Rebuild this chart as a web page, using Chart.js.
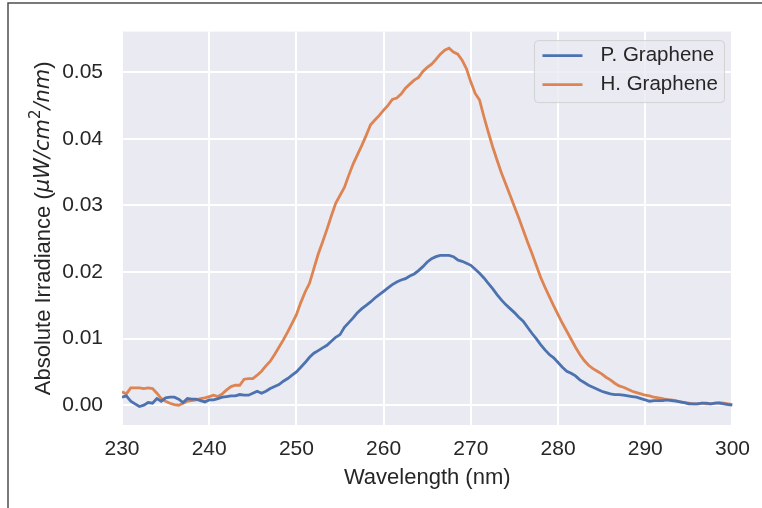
<!DOCTYPE html>
<html>
<head>
<meta charset="utf-8">
<script src="https://cdn.jsdelivr.net/npm/chart.js@4"></script>
<style>
  body { margin: 0; background: #fff; }
  canvas { display: block; }
</style>
</head>
<body>
<canvas id="spectrumChart" width="762" height="508"></canvas>
<script>
// Wavelength grid (nm), sampled every 0.5 nm from 230 to 300
const wlStart = 230;
const wlStep = 0.5;

// P. Graphene
const pGraphene = [
  0.0012, 0.0014, 0.0006, 0.0002, -0.0002, 0.0000, 0.0004, 0.0003, 0.0010, 0.0006,
  0.0011, 0.0012, 0.0012, 0.0009, 0.0004, 0.0010, 0.0009, 0.0009, 0.0007, 0.0005,
  0.0008, 0.0008, 0.0010, 0.0012, 0.0013, 0.0014, 0.0014, 0.0016, 0.0015, 0.0015,
  0.0018, 0.0021, 0.0018, 0.0021, 0.0025, 0.0028, 0.0031, 0.0036, 0.0040, 0.0045,
  0.0050, 0.0057, 0.0064, 0.0072, 0.0078, 0.0082, 0.0086, 0.0090, 0.0096, 0.0102,
  0.0106, 0.0117, 0.0124, 0.0131, 0.0139, 0.0145, 0.0150, 0.0155, 0.0161, 0.0166,
  0.0171, 0.0176, 0.0181, 0.0185, 0.0188, 0.0190, 0.0194, 0.0197, 0.0202, 0.0208,
  0.0215, 0.0220, 0.0223, 0.0225, 0.0225, 0.0225, 0.0223, 0.0218, 0.0216, 0.0213,
  0.0210, 0.0204, 0.0198, 0.0191, 0.0183, 0.0175, 0.0166, 0.0158, 0.0151, 0.0145,
  0.0139, 0.0132, 0.0126, 0.0117, 0.0108, 0.0100, 0.0091, 0.0083, 0.0076, 0.0071,
  0.0064, 0.0057, 0.0051, 0.0048, 0.0044, 0.0038, 0.0034, 0.0030, 0.0027, 0.0024,
  0.0021, 0.0019, 0.0017, 0.0016, 0.0016, 0.0015, 0.0014, 0.0013, 0.0012, 0.0010,
  0.0008, 0.0006, 0.0007, 0.0007, 0.0007, 0.0008, 0.0007, 0.0006, 0.0005, 0.0004,
  0.0002, 0.0002, 0.0002, 0.0003, 0.0003, 0.0002, 0.0003, 0.0003, 0.0002, 0.0001,
  0.0000
];

// H. Graphene
const hGraphene = [
  0.0020, 0.0017, 0.0026, 0.0026, 0.0026, 0.0025, 0.0026, 0.0025, 0.0018, 0.0010,
  0.0006, 0.0003, 0.0001, 0.0000, 0.0003, 0.0006, 0.0007, 0.0008, 0.0010, 0.0011,
  0.0013, 0.0015, 0.0013, 0.0017, 0.0023, 0.0028, 0.0030, 0.0030, 0.0039, 0.0040,
  0.0040, 0.0045, 0.0051, 0.0059, 0.0066, 0.0076, 0.0087, 0.0098, 0.0110, 0.0123,
  0.0136, 0.0154, 0.0170, 0.0183, 0.0205, 0.0227, 0.0245, 0.0264, 0.0284, 0.0303,
  0.0315, 0.0327, 0.0345, 0.0362, 0.0376, 0.0390, 0.0405, 0.0421, 0.0428, 0.0435,
  0.0443, 0.0450, 0.0459, 0.0461, 0.0467, 0.0476, 0.0482, 0.0488, 0.0492, 0.0501,
  0.0507, 0.0512, 0.0519, 0.0527, 0.0533, 0.0536, 0.0530, 0.0527, 0.0518, 0.0505,
  0.0485, 0.0468, 0.0458, 0.0433, 0.0410, 0.0388, 0.0368, 0.0349, 0.0332, 0.0315,
  0.0298, 0.0281, 0.0263, 0.0245, 0.0228, 0.0210, 0.0192, 0.0177, 0.0163, 0.0149,
  0.0136, 0.0123, 0.0111, 0.0099, 0.0087, 0.0076, 0.0067, 0.0060, 0.0055, 0.0051,
  0.0047, 0.0042, 0.0038, 0.0033, 0.0029, 0.0027, 0.0024, 0.0021, 0.0019, 0.0017,
  0.0015, 0.0014, 0.0012, 0.0011, 0.0010, 0.0008, 0.0008, 0.0007, 0.0005, 0.0004,
  0.0003, 0.0002, 0.0002, 0.0003, 0.0002, 0.0002, 0.0003, 0.0004, 0.0003, 0.0002,
  0.0001
];

const seriesLabels = ["P. Graphene", "H. Graphene"];
const xTicks = [230, 240, 250, 260, 270, 280, 290, 300];
const yTicks = [0.0, 0.01, 0.02, 0.03, 0.04, 0.05];

const FONT = '"Liberation Sans", Arial, sans-serif';
const TEXT = "#262626";

// build {x, y} points from the grid
function toPoints(values) {
  return values.map((v, i) => ({ x: wlStart + i * wlStep, y: v }));
}

// seaborn-style grey plot background
const plotBackground = {
  id: "plotBackground",
  beforeDraw(chart) {
    const { ctx, chartArea: a } = chart;
    ctx.save();
    ctx.fillStyle = "#eaeaf2";
    ctx.fillRect(a.left, a.top, a.right - a.left, a.bottom - a.top);
    ctx.restore();
  },
};

// y axis title with italic math part and superscript, centred on the plot
const yAxisTitle = {
  id: "yAxisTitle",
  afterDraw(chart) {
    const { ctx, chartArea: a } = chart;
    const parts = [
      { t: "Absolute Irradiance (", f: "22px " + FONT, dy: 0 },
      { t: "\u03bcW/cm", f: 'italic 21px "DejaVu Sans", sans-serif', dy: 0 },
      { t: "2", f: '15px "DejaVu Sans", sans-serif', dy: -8 },
      { t: "/nm", f: 'italic 21px "DejaVu Sans", sans-serif', dy: 0 },
      { t: ")", f: "22px " + FONT, dy: 0 },
    ];
    ctx.save();
    let total = 0;
    parts.forEach((p) => {
      ctx.font = p.f;
      p.w = ctx.measureText(p.t).width;
      total += p.w;
    });
    ctx.translate(44, (a.top + a.bottom) / 2);
    ctx.rotate(-Math.PI / 2);
    ctx.fillStyle = TEXT;
    ctx.textBaseline = "middle";
    ctx.textAlign = "left";
    let x = -total / 2;
    parts.forEach((p) => {
      ctx.font = p.f;
      ctx.fillText(p.t, x, p.dy);
      x += p.w;
    });
    ctx.restore();
  },
};

// legend box in the upper right of the plot
const innerLegend = {
  id: "innerLegend",
  afterDatasetsDraw(chart) {
    const { ctx, chartArea: a } = chart;
    const boxW = 190, boxH = 62;
    const bx = a.right - 8 - boxW, by = a.top + 9;
    ctx.save();
    ctx.beginPath();
    ctx.roundRect(bx, by, boxW, boxH, 4);
    ctx.fillStyle = "rgba(234,234,242,0.8)";
    ctx.fill();
    ctx.strokeStyle = "rgba(204,204,204,0.8)";
    ctx.lineWidth = 1;
    ctx.stroke();
    ctx.font = "20.5px " + FONT;
    ctx.textBaseline = "middle";
    chart.data.datasets.forEach((ds, i) => {
      const y = by + 15 + i * 29;
      ctx.beginPath();
      ctx.moveTo(bx + 8, y);
      ctx.lineTo(bx + 48, y);
      ctx.strokeStyle = ds.borderColor;
      ctx.lineWidth = 2.8;
      ctx.stroke();
      ctx.fillStyle = TEXT;
      ctx.fillText(ds.label, bx + 66, y);
    });
    ctx.restore();
  },
};

// frame lines along the top and left of the picture
const pageFrame = {
  id: "pageFrame",
  afterDraw(chart) {
    const ctx = chart.ctx;
    ctx.save();
    ctx.strokeStyle = "#4d4d4d";
    ctx.lineWidth = 1.5;
    ctx.beginPath();
    ctx.moveTo(8, 508);
    ctx.lineTo(8, 3);
    ctx.lineTo(762, 3);
    ctx.stroke();
    ctx.restore();
  },
};

const ctx = document.getElementById("spectrumChart").getContext("2d");

new Chart(ctx, {
  type: "line",
  data: {
    datasets: [
      {
        label: seriesLabels[0],
        data: toPoints(pGraphene),
        borderColor: "#4c72b0",
        borderWidth: 2.8,
        pointRadius: 0,
        tension: 0,
      },
      {
        label: seriesLabels[1],
        data: toPoints(hGraphene),
        borderColor: "#dd8452",
        borderWidth: 2.8,
        pointRadius: 0,
        tension: 0,
      },
    ],
  },
  options: {
    responsive: false,
    animation: false,
    layout: {
      autoPadding: false,
      padding: { top: 27, right: 27, bottom: 0, left: 0 },
    },
    plugins: {
      legend: { display: false },
      tooltip: { enabled: false },
    },
    scales: {
      x: {
        type: "linear",
        min: 230,
        max: 300,
        afterBuildTicks: (s) => { s.ticks = xTicks.map((v) => ({ value: v })); },
        afterFit: (s) => { s.height = 83; },
        grid: { color: "#ffffff", lineWidth: 2, drawTicks: false },
        border: { display: false },
        ticks: {
          padding: 12,
          color: TEXT,
          font: { family: FONT, size: 21 },
          callback: (v) => String(v),
        },
        title: {
          display: true,
          text: "Wavelength (nm)",
          color: TEXT,
          font: { family: FONT, size: 22 },
          padding: { top: 0, bottom: 17 },
        },
      },
      y: {
        min: -0.00297,
        max: 0.05608,
        afterBuildTicks: (s) => { s.ticks = yTicks.map((v) => ({ value: v })); },
        afterFit: (s) => { s.width = 122; },
        grid: { color: "#ffffff", lineWidth: 2, drawTicks: false },
        border: { display: false },
        ticks: {
          padding: 19,
          color: TEXT,
          font: { family: FONT, size: 21 },
          callback: (v) => Number(v).toFixed(2),
        },
      },
    },
  },
  plugins: [plotBackground, yAxisTitle, innerLegend, pageFrame],
});
</script>
</body>
</html>
